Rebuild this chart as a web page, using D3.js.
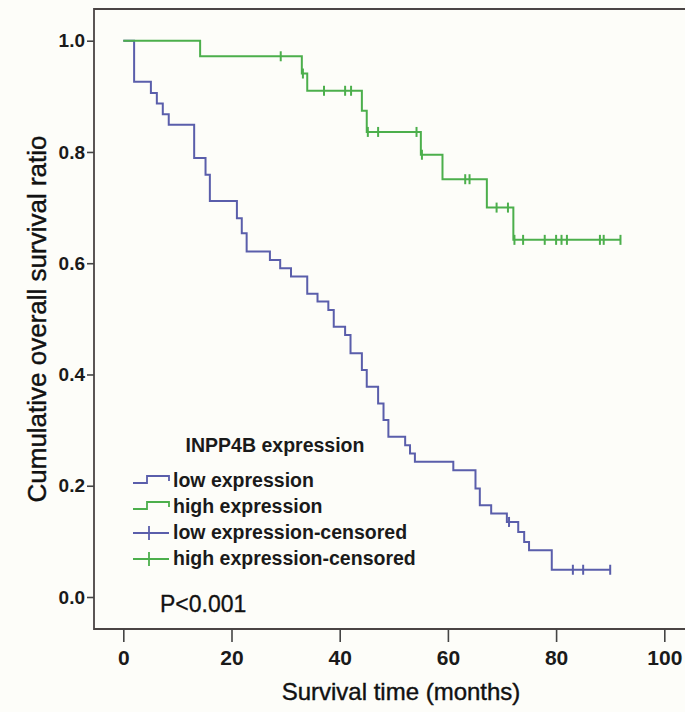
<!DOCTYPE html>
<html>
<head>
<meta charset="utf-8">
<script src="https://cdn.jsdelivr.net/npm/d3@7"></script>
<style>
  body { margin: 0; background: #fdfdf9; }
  svg { display: block; }
  .axis text { font-family: "Liberation Sans", Arial, sans-serif; font-weight: bold; fill: #1a1a1a; }
  .axis line { stroke: #444; stroke-width: 1.6; }
  .axis path { display: none; }
</style>
</head>
<body>
<div id="chart"></div>
<script>
// Kaplan-Meier steps (months, survival ratio)
const lowTime = [0, 2.0, 5.1, 6.2, 7.3, 8.4, 13.1, 15.2, 16.0, 21.0, 21.9, 22.8, 27.1, 29.0, 31.0, 34.0, 35.9, 37.9, 38.9, 41.0, 42.0, 44.1, 45.0, 47.1, 48.1, 49.0, 52.1, 53.0, 53.9, 61.0, 65.1, 65.9, 68.0, 70.9, 73.0, 74.1, 75.0, 79.2];
const lowSurv = [1.0, 0.926, 0.906, 0.887, 0.868, 0.849, 0.789, 0.759, 0.712, 0.681, 0.654, 0.621, 0.606, 0.591, 0.576, 0.545, 0.531, 0.516, 0.486, 0.471, 0.438, 0.408, 0.378, 0.348, 0.318, 0.288, 0.273, 0.258, 0.243, 0.228, 0.195, 0.165, 0.150, 0.135, 0.117, 0.099, 0.084, 0.049];
const lowCensor = [71.3, 83.1, 85.0, 90.0];
const lowEnd = 90.0;

const highTime = [0, 14.2, 33.0, 34.0, 44.1, 45.0, 55.0, 59.0, 67.2, 72.1];
const highSurv = [1.0, 0.972, 0.941, 0.910, 0.874, 0.836, 0.795, 0.751, 0.700, 0.642];
const highCensor = [29.1, 33.2, 37.1, 41.0, 42.1, 45.2, 47.1, 54.2, 55.2, 63.2, 64.0, 69.0, 71.1, 72.3, 73.9, 77.9, 80.0, 81.0, 82.0, 88.1, 88.8, 91.9];
const highEnd = 91.9;

const xTicks = [0, 20, 40, 60, 80, 100];
const yTicks = [0, 0.2, 0.4, 0.6, 0.8, 1.0];

const legendTitle = "INPP4B expression";
const legendLabels = ["low expression", "high expression", "low expression-censored", "high expression-censored"];
const pText = "P<0.001";

const colLow = "#5a5eab", colHigh = "#4caf4c";

const width = 685, height = 712;
const frame = { left: 94, top: 9, bottom: 629 };
const fontSans = "'Liberation Sans', Arial, sans-serif";

const svg = d3.select("#chart").append("svg")
    .attr("width", width)
    .attr("height", height);

svg.append("rect").attr("width", width).attr("height", height).attr("fill", "#fdfdf9");

const x = d3.scaleLinear().domain([0, 100]).range([123.3, 664.3]);
const y = d3.scaleLinear().domain([0, 1]).range([597, 40.7]);

// frame
svg.append("path")
    .attr("d", `M${width},${frame.top}H${frame.left}V${frame.bottom}H${width}`)
    .attr("fill", "none")
    .attr("stroke", "#4a4444")
    .attr("stroke-width", 1.8);

// axes
const yAxis = d3.axisLeft(y).tickValues(yTicks).tickFormat(d3.format(".1f")).tickSize(7).tickPadding(2);
svg.append("g")
    .attr("class", "axis")
    .attr("transform", `translate(${frame.left},0)`)
    .call(yAxis)
    .selectAll("text").style("font-size", "19px");

const xAxis = d3.axisBottom(x).tickValues(xTicks).tickSize(13).tickPadding(8);
svg.append("g")
    .attr("class", "axis")
    .attr("transform", `translate(0,${frame.bottom})`)
    .call(xAxis)
    .selectAll("text").style("font-size", "21px");

// axis titles
svg.append("text")
    .attr("x", 401)
    .attr("y", 700)
    .attr("text-anchor", "middle")
    .style("font-family", fontSans)
    .style("font-size", "24px")
    .attr("fill", "#111")
    .attr("stroke", "#111").attr("stroke-width", 0.4)
    .text("Survival time (months)");

svg.append("text")
    .attr("transform", `translate(46,${(frame.top + frame.bottom) / 2}) rotate(-90)`)
    .attr("text-anchor", "middle")
    .style("font-family", fontSans)
    .style("font-size", "26px")
    .attr("fill", "#111")
    .attr("stroke", "#111").attr("stroke-width", 0.4)
    .text("Cumulative overall survival ratio");

// curves
const stepLine = d3.line()
    .x(d => x(d[0]))
    .y(d => y(d[1]))
    .curve(d3.curveStepAfter);

function survAt(times, surv, t) {
    let i = d3.bisectRight(times, t) - 1;
    return surv[Math.max(0, i)];
}

const groups = [
    { times: lowTime, surv: lowSurv, censor: lowCensor, end: lowEnd, color: colLow },
    { times: highTime, surv: highSurv, censor: highCensor, end: highEnd, color: colHigh }
];

groups.forEach(g => {
    const pts = g.times.map((t, i) => [t, g.surv[i]]);
    pts.push([g.end, g.surv[g.surv.length - 1]]);
    svg.append("path")
        .datum(pts)
        .attr("d", stepLine)
        .attr("fill", "none")
        .attr("stroke", g.color)
        .attr("stroke-width", 2);

    svg.selectAll(null)
        .data(g.censor)
        .enter().append("line")
        .attr("x1", d => x(d)).attr("x2", d => x(d))
        .attr("y1", d => y(survAt(g.times, g.surv, d)) - 5)
        .attr("y2", d => y(survAt(g.times, g.surv, d)) + 5)
        .attr("stroke", g.color)
        .attr("stroke-width", 2);
});

// legend
const lg = svg.append("g").attr("transform", "translate(133,0)");
lg.append("text")
    .attr("x", 142).attr("y", 452)
    .attr("text-anchor", "middle")
    .style("font-family", fontSans)
    .style("font-weight", "bold")
    .style("font-size", "19.5px")
    .attr("fill", "#1a1a1a")
    .text(legendTitle);

const rowY = [487, 513, 539, 565];
const rowCol = [colLow, colHigh, colLow, colHigh];
legendLabels.forEach((lab, i) => {
    const cy = rowY[i] - 6;
    if (i < 2) {
        lg.append("path")
            .attr("d", `M0,${cy + 2}H14V${cy - 5}H36V${cy}`)
            .attr("fill", "none")
            .attr("stroke", rowCol[i])
            .attr("stroke-width", 1.8);
    } else {
        lg.append("path")
            .attr("d", `M0,${cy}H36M16,${cy - 7}V${cy + 7}`)
            .attr("fill", "none")
            .attr("stroke", rowCol[i])
            .attr("stroke-width", 1.8);
    }
    lg.append("text")
        .attr("x", 40).attr("y", rowY[i])
        .style("font-family", fontSans)
        .style("font-weight", "bold")
        .style("font-size", "19.5px")
        .attr("fill", "#1a1a1a")
        .text(lab);
});

svg.append("text")
    .attr("x", 160).attr("y", 612)
    .style("font-family", fontSans)
    .style("font-size", "23px")
    .attr("fill", "#111")
    .attr("stroke", "#111").attr("stroke-width", 0.3)
    .text(pText);
</script>
</body>
</html>
